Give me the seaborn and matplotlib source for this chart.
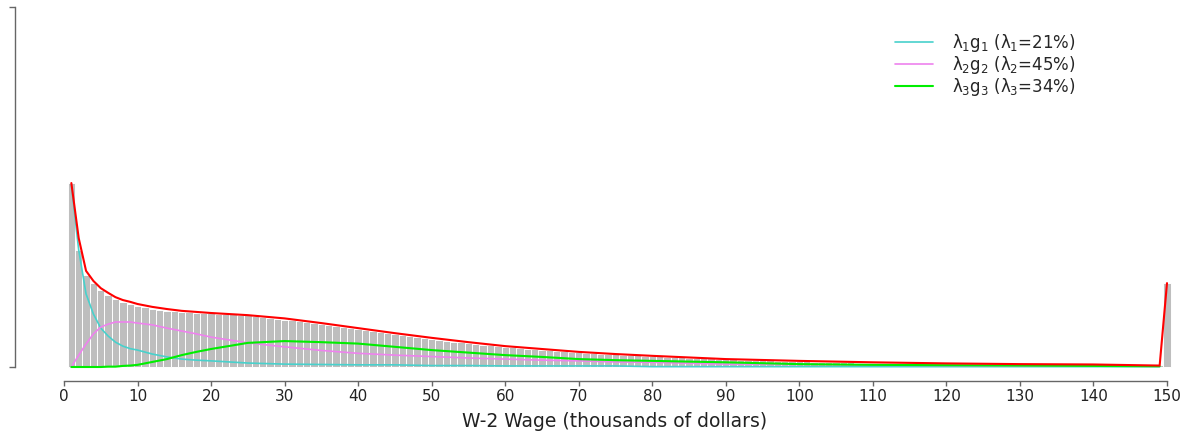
import numpy as np
import pandas as pd
import matplotlib
matplotlib.use("Agg")
import matplotlib.pyplot as plt
import seaborn as sns

# Histogram of W-2 wages: share of workers (%) in each $1k bin, bins centred at 1..150
bin_centers = list(range(1, 151))
bin_share = [
    5.11, 3.25, 2.56, 2.33, 2.14, 2.00, 1.89, 1.81, 1.75, 1.69,
    1.67, 1.61, 1.58, 1.56, 1.56, 1.53, 1.53, 1.50, 1.50, 1.50,
    1.47, 1.47, 1.47, 1.44, 1.44, 1.42, 1.39, 1.36, 1.33, 1.31,
    1.31, 1.28, 1.25, 1.22, 1.19, 1.17, 1.14, 1.11, 1.08, 1.06,
    1.03, 1.00, 0.97, 0.94, 0.92, 0.89, 0.86, 0.83, 0.81, 0.78,
    0.75, 0.72, 0.69, 0.69, 0.67, 0.64, 0.61, 0.61, 0.58, 0.56,
    0.56, 0.53, 0.50, 0.50, 0.47, 0.47, 0.44, 0.44, 0.42, 0.42,
    0.39, 0.39, 0.36, 0.36, 0.36, 0.33, 0.33, 0.33, 0.31, 0.31,
    0.31, 0.28, 0.28, 0.28, 0.25, 0.25, 0.25, 0.25, 0.22, 0.22,
    0.22, 0.19, 0.19, 0.19, 0.19, 0.19, 0.17, 0.17, 0.17, 0.17,
    0.17, 0.14, 0.14, 0.14, 0.14, 0.14, 0.14, 0.11, 0.11, 0.11,
    0.11, 0.11, 0.11, 0.11, 0.11, 0.08, 0.08, 0.08, 0.08, 0.08,
    0.08, 0.08, 0.08, 0.08, 0.08, 0.08, 0.08, 0.08, 0.08, 0.08,
    0.08, 0.08, 0.06, 0.06, 0.06, 0.06, 0.06, 0.06, 0.06, 0.06,
    0.06, 0.06, 0.06, 0.06, 0.06, 0.06, 0.06, 0.06, 0.06, 2.33,
]

# Fitted mixture components lambda_k * g_k (%), evaluated at these wages
curve_x = [1, 2, 3, 4, 5, 6, 7, 8, 9, 10, 12, 14, 16, 18, 20, 25, 30, 35, 40, 45,
           50, 55, 60, 65, 70, 75, 80, 90, 100, 110, 120, 130, 140, 149]
comp1 = [5.06, 3.25, 2.03, 1.47, 1.08, 0.86, 0.69, 0.58, 0.51, 0.47, 0.36, 0.28, 0.22,
         0.19, 0.17, 0.11, 0.08, 0.07, 0.06, 0.06, 0.04, 0.04, 0.03, 0.03, 0.03, 0.03,
         0.01, 0.01, 0.01, 0.01, 0.01, 0.01, 0.01, 0.01]
comp2 = [0.00, 0.33, 0.64, 0.92, 1.11, 1.19, 1.25, 1.25, 1.25, 1.22, 1.17, 1.08, 1.00,
         0.92, 0.83, 0.67, 0.56, 0.46, 0.38, 0.33, 0.29, 0.25, 0.22, 0.19, 0.17, 0.14,
         0.13, 0.08, 0.07, 0.05, 0.04, 0.03, 0.03, 0.02]
comp3 = [0.00, 0.00, 0.00, 0.00, 0.00, 0.01, 0.01, 0.03, 0.04, 0.06, 0.14, 0.22, 0.33,
         0.42, 0.50, 0.67, 0.72, 0.69, 0.65, 0.56, 0.47, 0.40, 0.33, 0.28, 0.22, 0.19,
         0.17, 0.13, 0.08, 0.06, 0.05, 0.04, 0.03, 0.02]

# Overall fitted density, including the top-coded mass at 150
total_x = [1, 2, 3, 4, 5, 6, 7, 8, 9, 10, 12, 14, 16, 18, 20, 25, 30, 35, 40, 45,
           50, 55, 60, 65, 70, 75, 80, 90, 100, 110, 120, 130, 140, 149, 150]
total_y = [5.11, 3.58, 2.67, 2.39, 2.19, 2.06, 1.94, 1.86, 1.81, 1.75, 1.67, 1.61, 1.56,
           1.53, 1.50, 1.44, 1.35, 1.22, 1.08, 0.94, 0.81, 0.69, 0.58, 0.50, 0.42, 0.36,
           0.31, 0.22, 0.17, 0.13, 0.10, 0.08, 0.07, 0.04, 2.33]

legend_labels = [
    r"$\lambda_1\mathrm{g}_1$ ($\lambda_1$=21%)",
    r"$\lambda_2\mathrm{g}_2$ ($\lambda_2$=45%)",
    r"$\lambda_3\mathrm{g}_3$ ($\lambda_3$=34%)",
]
x_ticks = list(range(0, 151, 10))

sns.set_style("white")
plt.rcParams["font.family"] = ["DejaVu Sans"]
plt.rcParams["mathtext.fontset"] = "custom"
plt.rcParams["mathtext.rm"] = "DejaVu Sans"
plt.rcParams["mathtext.it"] = "DejaVu Sans"
plt.rcParams["mathtext.bf"] = "DejaVu Sans:bold"

W, H, DPI = 1183, 433, 100
fig = plt.figure(figsize=(W / DPI, H / DPI), dpi=DPI)
left_px, right_px, top_px, bottom_px = 15, 1174, 7, 381
ax = fig.add_axes([left_px / W, 1 - bottom_px / H,
                   (right_px - left_px) / W, (bottom_px - top_px) / H])

hist_df = pd.DataFrame({"wage": bin_centers, "share": bin_share})
sns.histplot(data=hist_df, x="wage", weights="share", bins=150, binrange=(0.5, 150.5),
             color="#BEBEBE", edgecolor="white", linewidth=0.7, alpha=1,
             ax=ax, zorder=1)

sns.lineplot(x=curve_x, y=comp1, color="#48D1CC", lw=1.2, label=legend_labels[0], ax=ax, zorder=3)
sns.lineplot(x=curve_x, y=comp2, color="#EE82EE", lw=1.2, label=legend_labels[1], ax=ax, zorder=3)
sns.lineplot(x=curve_x, y=comp3, color="#00EE00", lw=1.5, label=legend_labels[2], ax=ax, zorder=4)
sns.lineplot(x=total_x, y=total_y, color="#FF0000", lw=1.5, ax=ax, zorder=5)

# axis limits in data units: 0..150 on x, 0..10 % on y, with R-style offset axes
x_per_px = 150 / (1167 - 64)
ax.set_xlim((left_px - 64) * x_per_px, (right_px - 64) * x_per_px)
y_per_px = 10 / (367 - 7)
ax.set_ylim(-(bottom_px - 367) * y_per_px, 10)

for s in ["top", "right"]:
    ax.spines[s].set_visible(False)
for s in ["left", "bottom"]:
    ax.spines[s].set_color("#666666")
    ax.spines[s].set_linewidth(1.0)
ax.spines["bottom"].set_bounds(0, 150)
ax.spines["left"].set_bounds(0, 10)

ax.set_xticks(x_ticks)
ax.set_xticklabels([str(t) for t in x_ticks])
ax.set_yticks([0, 10])
ax.set_yticklabels([])
ax.tick_params(axis="x", direction="out", length=3.5, width=1.0, color="#666666",
               labelsize=11, labelcolor="#222222", pad=2, bottom=True)
ax.tick_params(axis="y", direction="out", length=4.5, width=1.0, color="#666666",
               left=True)
ax.set_ylabel("")
# centre the axis title over the 0..150 wage range
label_x = (615 - left_px) / (right_px - left_px)
ax.set_xlabel("W-2 Wage (thousands of dollars)", fontsize=13.5, color="#222222",
              labelpad=6, x=label_x)

handles, labels = ax.get_legend_handles_labels()
ax.legend(handles, labels, loc="upper left", bbox_to_anchor=(895 / W, 1 - 32 / H),
          bbox_transform=fig.transFigure, frameon=False, fontsize=12,
          handlelength=2.3, handletextpad=1.1, labelspacing=0.0,
          borderpad=0, borderaxespad=0)

fig.savefig("out.png", dpi=DPI)
